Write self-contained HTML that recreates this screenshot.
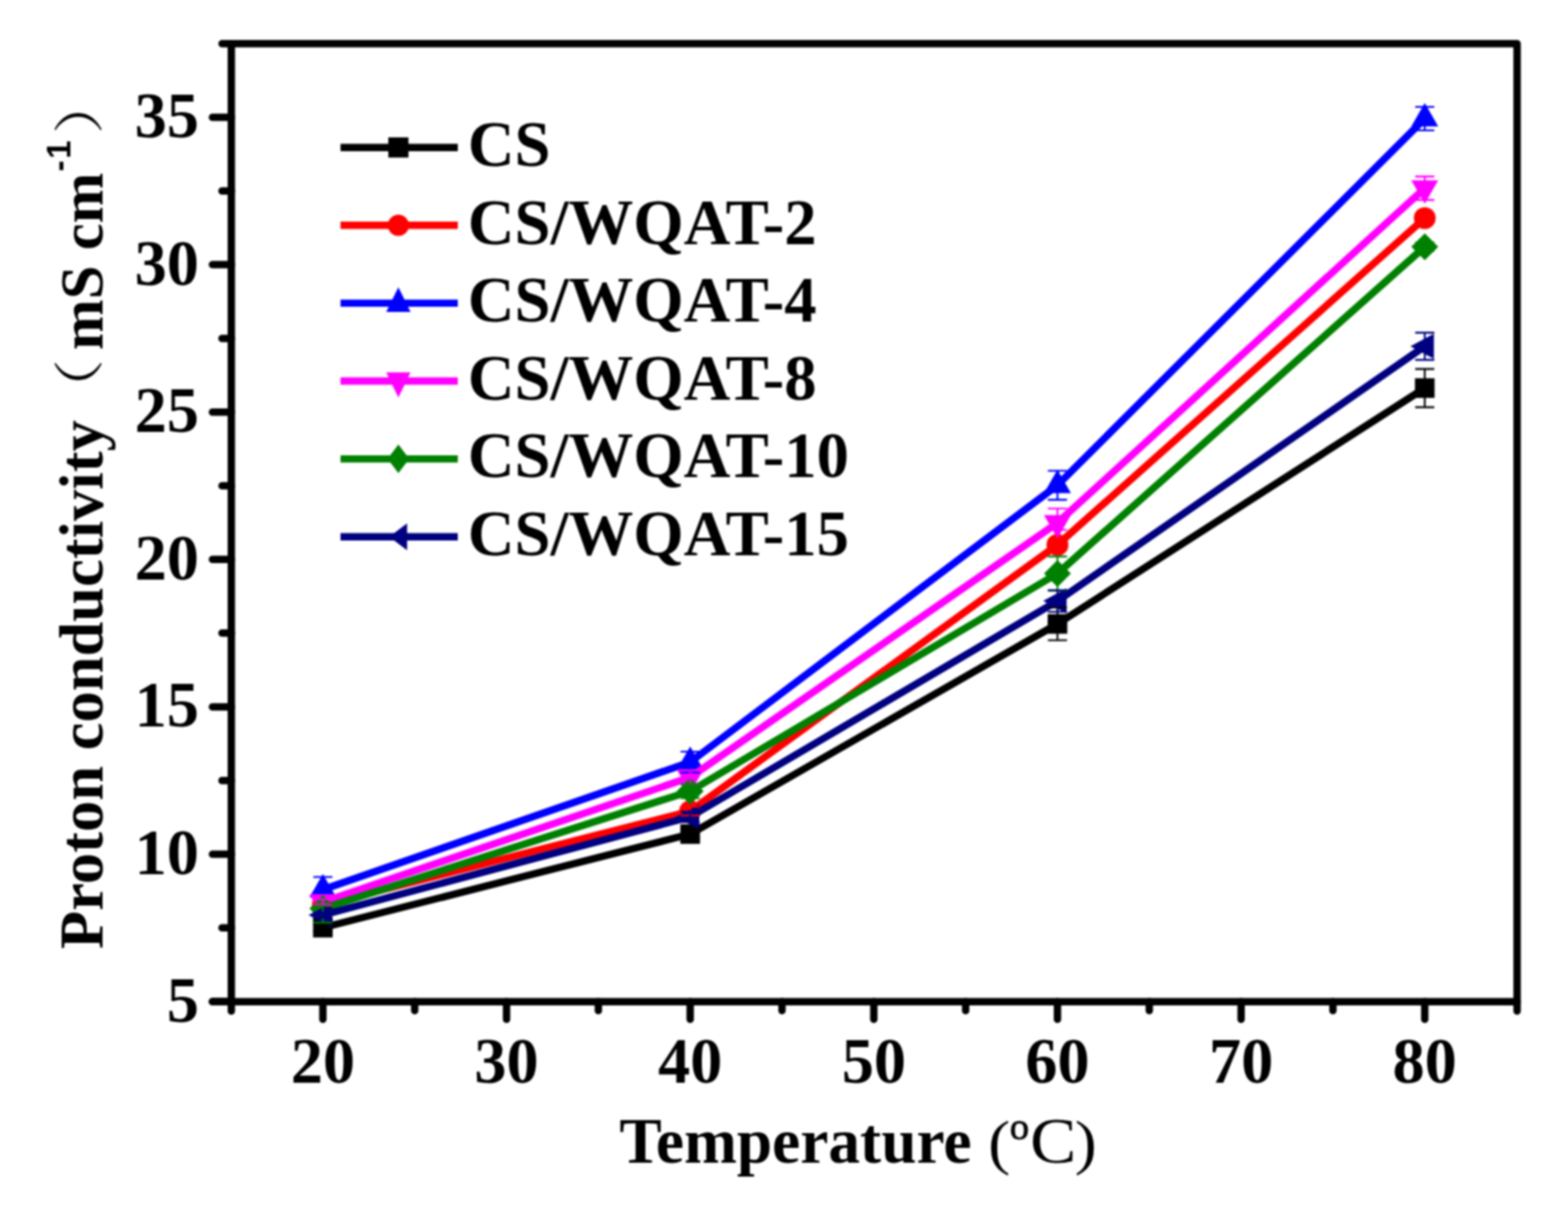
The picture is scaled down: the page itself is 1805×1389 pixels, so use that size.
<!DOCTYPE html>
<html><head><meta charset="utf-8"><title>Proton conductivity vs Temperature</title>
<style>html,body{margin:0;padding:0;background:#fff;overflow:hidden;}svg{display:block;}#wrap{filter:blur(1px);width:1805px;height:1389px;}</style></head>
<body><div id="wrap"><svg width="1805" height="1389" viewBox="0 0 1805 1389">
<rect width="1805" height="1389" fill="#fff"/>
<g stroke="#000" stroke-width="8.5" fill="none" stroke-linecap="round" stroke-linejoin="round">
<path d="M255.6,50.3 H1746.4 V1163.45"/>
<path d="M266.3,50.3 V1163.45"/>
<path d="M244.55,1152.7 H1746.4"/>
<path d="M244.55,1152.6 H266.3"/>
<path d="M244.55,983.0 H266.3"/>
<path d="M244.55,813.4 H266.3"/>
<path d="M244.55,643.8 H266.3"/>
<path d="M244.55,474.2 H266.3"/>
<path d="M244.55,304.6 H266.3"/>
<path d="M244.55,135.0 H266.3"/>
<path d="M255.55,1067.8 H266.3"/>
<path d="M255.55,898.2 H266.3"/>
<path d="M255.55,728.6 H266.3"/>
<path d="M255.55,559.0 H266.3"/>
<path d="M255.55,389.4 H266.3"/>
<path d="M255.55,219.8 H266.3"/>
<path d="M371.7,1152.7 V1172.95"/>
<path d="M583.1,1152.7 V1172.95"/>
<path d="M794.5,1152.7 V1172.95"/>
<path d="M1005.9,1152.7 V1172.95"/>
<path d="M1217.3,1152.7 V1172.95"/>
<path d="M1428.7,1152.7 V1172.95"/>
<path d="M1640.1,1152.7 V1172.95"/>
<path d="M477.4,1152.7 V1162.95"/>
<path d="M688.8,1152.7 V1162.95"/>
<path d="M900.2,1152.7 V1162.95"/>
<path d="M1111.6,1152.7 V1162.95"/>
<path d="M1323.0,1152.7 V1162.95"/>
<path d="M1534.4,1152.7 V1162.95"/>
</g>
<g font-family="'Liberation Serif', serif" font-weight="bold" font-size="74" fill="#000">
<text x="229" y="1175.6" text-anchor="end">5</text>
<text x="229" y="1006.0" text-anchor="end">10</text>
<text x="229" y="836.4" text-anchor="end">15</text>
<text x="229" y="666.8" text-anchor="end">20</text>
<text x="229" y="497.2" text-anchor="end">25</text>
<text x="229" y="327.6" text-anchor="end">30</text>
<text x="229" y="158.0" text-anchor="end">35</text>
<text x="371.7" y="1246" text-anchor="middle">20</text>
<text x="583.1" y="1246" text-anchor="middle">30</text>
<text x="794.5" y="1246" text-anchor="middle">40</text>
<text x="1005.9" y="1246" text-anchor="middle">50</text>
<text x="1217.3" y="1246" text-anchor="middle">60</text>
<text x="1428.7" y="1246" text-anchor="middle">70</text>
<text x="1640.1" y="1246" text-anchor="middle">80</text>
</g>
<polyline points="371.7,1067.5 794.5,959.8 1217.3,718.0 1640.1,446.6" fill="none" stroke="#000000" stroke-width="8.4" stroke-linejoin="round"/>
<rect x="360.4" y="1056.2" width="22.6" height="22.6" fill="#000000"/>
<rect x="783.2" y="948.5" width="22.6" height="22.6" fill="#000000"/>
<rect x="1206.0" y="706.7" width="22.6" height="22.6" fill="#000000"/>
<rect x="1628.8" y="435.3" width="22.6" height="22.6" fill="#000000"/>
<polyline points="371.7,1041.5 794.5,933.5 1217.3,627.0 1640.1,251.0" fill="none" stroke="#ff0000" stroke-width="8.4" stroke-linejoin="round"/>
<circle cx="371.7" cy="1041.5" r="12.6" fill="#ff0000"/>
<circle cx="794.5" cy="933.5" r="12.6" fill="#ff0000"/>
<circle cx="1217.3" cy="627.0" r="12.6" fill="#ff0000"/>
<circle cx="1640.1" cy="251.0" r="12.6" fill="#ff0000"/>
<polyline points="371.7,1023.8 794.5,877.0 1217.3,558.4 1640.1,136.5" fill="none" stroke="#0000ff" stroke-width="8.4" stroke-linejoin="round"/>
<polygon points="371.7,1005.8 387.2,1032.8 356.2,1032.8" fill="#0000ff"/>
<polygon points="794.5,859.0 810.0,886.0 779.0,886.0" fill="#0000ff"/>
<polygon points="1217.3,540.4 1232.8,567.4 1201.8,567.4" fill="#0000ff"/>
<polygon points="1640.1,118.5 1655.6,145.5 1624.6,145.5" fill="#0000ff"/>
<polyline points="371.7,1038.0 794.5,894.5 1217.3,601.7 1640.1,216.6" fill="none" stroke="#ff00ff" stroke-width="8.4" stroke-linejoin="round"/>
<polygon points="371.7,1056.0 387.2,1029.0 356.2,1029.0" fill="#ff00ff"/>
<polygon points="794.5,912.5 810.0,885.5 779.0,885.5" fill="#ff00ff"/>
<polygon points="1217.3,619.7 1232.8,592.7 1201.8,592.7" fill="#ff00ff"/>
<polygon points="1640.1,234.6 1655.6,207.6 1624.6,207.6" fill="#ff00ff"/>
<polyline points="371.7,1045.5 794.5,910.5 1217.3,660.0 1640.1,284.0" fill="none" stroke="#008000" stroke-width="8.4" stroke-linejoin="round"/>
<polygon points="371.7,1030.0 387.2,1045.5 371.7,1061.0 356.2,1045.5" fill="#008000"/>
<polygon points="794.5,895.0 810.0,910.5 794.5,926.0 779.0,910.5" fill="#008000"/>
<polygon points="1217.3,644.5 1232.8,660.0 1217.3,675.5 1201.8,660.0" fill="#008000"/>
<polygon points="1640.1,268.5 1655.6,284.0 1640.1,299.5 1624.6,284.0" fill="#008000"/>
<polyline points="371.7,1053.0 794.5,940.0 1217.3,691.6 1640.1,398.5" fill="none" stroke="#000080" stroke-width="8.4" stroke-linejoin="round"/>
<polygon points="355.2,1053.0 382.2,1038.5 382.2,1067.5" fill="#000080"/>
<polygon points="778.0,940.0 805.0,925.5 805.0,954.5" fill="#000080"/>
<polygon points="1200.8,691.6 1227.8,677.1 1227.8,706.1" fill="#000080"/>
<polygon points="1623.6,398.5 1650.6,384.0 1650.6,413.0" fill="#000080"/>
<path d="M371.7,1063.5 V1071.5 M360.7,1063.5 H382.7 M360.7,1071.5 H382.7" stroke="#000000" stroke-width="2.1" fill="none"/>
<path d="M794.5,954.8 V964.8 M783.5,954.8 H805.5 M783.5,964.8 H805.5" stroke="#000000" stroke-width="2.1" fill="none"/>
<path d="M1217.3,699.3 V736.7 M1206.3,699.3 H1228.3 M1206.3,736.7 H1228.3" stroke="#000000" stroke-width="2.1" fill="none"/>
<path d="M1640.1,424.6 V468.6 M1629.1,424.6 H1651.1 M1629.1,468.6 H1651.1" stroke="#000000" stroke-width="2.1" fill="none"/>
<path d="M371.7,1040.5 V1042.5 M360.7,1040.5 H382.7 M360.7,1042.5 H382.7" stroke="#ff0000" stroke-width="2.1" fill="none"/>
<path d="M794.5,928.5 V938.5 M783.5,928.5 H805.5 M783.5,938.5 H805.5" stroke="#ff0000" stroke-width="2.1" fill="none"/>
<path d="M1217.3,621.0 V633.0 M1206.3,621.0 H1228.3 M1206.3,633.0 H1228.3" stroke="#ff0000" stroke-width="2.1" fill="none"/>
<path d="M1640.1,247.0 V255.0 M1629.1,247.0 H1651.1 M1629.1,255.0 H1651.1" stroke="#ff0000" stroke-width="2.1" fill="none"/>
<path d="M371.7,1009.2 V1026.8 M360.7,1009.2 H382.7 M360.7,1026.8 H382.7" stroke="#0000ff" stroke-width="2.1" fill="none"/>
<path d="M794.5,865.0 V889.0 M783.5,865.0 H805.5 M783.5,889.0 H805.5" stroke="#0000ff" stroke-width="2.1" fill="none"/>
<path d="M1217.3,541.7 V575.1 M1206.3,541.7 H1228.3 M1206.3,575.1 H1228.3" stroke="#0000ff" stroke-width="2.1" fill="none"/>
<path d="M1640.1,123.0 V150.0 M1629.1,123.0 H1651.1 M1629.1,150.0 H1651.1" stroke="#0000ff" stroke-width="2.1" fill="none"/>
<path d="M371.7,1035.0 V1041.0 M360.7,1035.0 H382.7 M360.7,1041.0 H382.7" stroke="#ff00ff" stroke-width="2.1" fill="none"/>
<path d="M794.5,886.5 V902.5 M783.5,886.5 H805.5 M783.5,902.5 H805.5" stroke="#ff00ff" stroke-width="2.1" fill="none"/>
<path d="M1217.3,585.2 V609.7 M1206.3,585.2 H1228.3 M1206.3,609.7 H1228.3" stroke="#ff00ff" stroke-width="2.1" fill="none"/>
<path d="M1640.1,203.1 V230.1 M1629.1,203.1 H1651.1 M1629.1,230.1 H1651.1" stroke="#ff00ff" stroke-width="2.1" fill="none"/>
<path d="M371.7,1042.5 V1061.8 M360.7,1042.5 H382.7 M360.7,1061.8 H382.7" stroke="#008000" stroke-width="2.1" fill="none"/>
<path d="M794.5,902.5 V918.5 M783.5,902.5 H805.5 M783.5,918.5 H805.5" stroke="#008000" stroke-width="2.1" fill="none"/>
<path d="M1217.3,640.4 V679.6 M1206.3,640.4 H1228.3 M1206.3,679.6 H1228.3" stroke="#008000" stroke-width="2.1" fill="none"/>
<path d="M1640.1,279.0 V289.0 M1629.1,279.0 H1651.1 M1629.1,289.0 H1651.1" stroke="#008000" stroke-width="2.1" fill="none"/>
<path d="M371.7,1050.0 V1056.0 M360.7,1050.0 H382.7 M360.7,1056.0 H382.7" stroke="#000080" stroke-width="2.1" fill="none"/>
<path d="M794.5,934.0 V946.0 M783.5,934.0 H805.5 M783.5,946.0 H805.5" stroke="#000080" stroke-width="2.1" fill="none"/>
<path d="M1217.3,679.2 V704.0 M1206.3,679.2 H1228.3 M1206.3,704.0 H1228.3" stroke="#000080" stroke-width="2.1" fill="none"/>
<path d="M1640.1,382.9 V414.1 M1629.1,382.9 H1651.1 M1629.1,414.1 H1651.1" stroke="#000080" stroke-width="2.1" fill="none"/>
<g font-family="'Liberation Serif', serif" font-weight="bold" font-size="74.5" fill="#000">
<path d="M392,169.7 H527" stroke="#000000" stroke-width="8.4" fill="none"/>
<rect x="447.0" y="158.1" width="23.2" height="23.2" fill="#000000"/>
<text x="538.5" y="191.0">CS</text>
<path d="M392,259.3 H527" stroke="#ff0000" stroke-width="8.4" fill="none"/>
<circle cx="458.6" cy="259.3" r="12.2" fill="#ff0000"/>
<text x="538.5" y="280.6">CS/WQAT-2</text>
<path d="M392,348.9 H527" stroke="#0000ff" stroke-width="8.4" fill="none"/>
<polygon points="458.6,330.4 472.6,358.9 444.6,358.9" fill="#0000ff"/>
<text x="538.5" y="370.2">CS/WQAT-4</text>
<path d="M392,438.5 H527" stroke="#ff00ff" stroke-width="8.4" fill="none"/>
<polygon points="458.6,457.5 472.6,428.5 444.6,428.5" fill="#ff00ff"/>
<text x="538.5" y="459.8">CS/WQAT-8</text>
<path d="M392,528.1 H527" stroke="#008000" stroke-width="8.4" fill="none"/>
<polygon points="458.6,511.6 471.1,528.1 458.6,544.6 446.1,528.1" fill="#008000"/>
<text x="538.5" y="549.4">CS/WQAT-10</text>
<path d="M392,617.7 H527" stroke="#000080" stroke-width="8.4" fill="none"/>
<polygon points="448.1,617.7 468.6,602.2 468.6,633.2" fill="#000080"/>
<text x="538.5" y="639.0">CS/WQAT-15</text>
</g>
<g transform="translate(118,1091.2) rotate(-90)" fill="#000">
<text x="-1" y="0" font-family="'Liberation Serif', serif" font-weight="bold" font-size="72">Proton conductivity</text>
<text transform="translate(608.4,-6) scale(1.2,1)" font-family="'Noto Serif CJK SC', serif" font-size="58">（</text>
<text x="688.4" y="0" font-family="'Liberation Serif', serif" font-weight="bold" font-size="70">mS cm</text>
<text x="894" y="-37.5" font-family="'Liberation Sans', sans-serif" font-weight="bold" font-size="38">-</text>
<text x="908.5" y="-37.5" font-family="'Liberation Sans', sans-serif" font-weight="bold" font-size="38">1</text>
<text transform="translate(937,-6) scale(1.2,1)" font-family="'Noto Serif CJK SC', serif" font-size="58">）</text>
</g>
<g fill="#000">
<text x="713" y="1337.5" font-family="'Liberation Serif', serif" font-weight="bold" font-size="73">Temperature</text>
<text transform="translate(1137.4,1337.5) scale(1.1,1)" font-family="'Liberation Serif', serif" font-size="69">(</text>
<text x="1162.2" y="1311" font-family="'Liberation Serif', serif" font-size="45" stroke="#000" stroke-width="0.8">o</text>
<text transform="translate(1185.7,1337.5) scale(1.095,1)" font-family="'Liberation Serif', serif" font-size="73">C</text>
<text transform="translate(1237.2,1337.5) scale(1.1,1)" font-family="'Liberation Serif', serif" font-size="69">)</text>
</g>
</svg></div></body></html>
